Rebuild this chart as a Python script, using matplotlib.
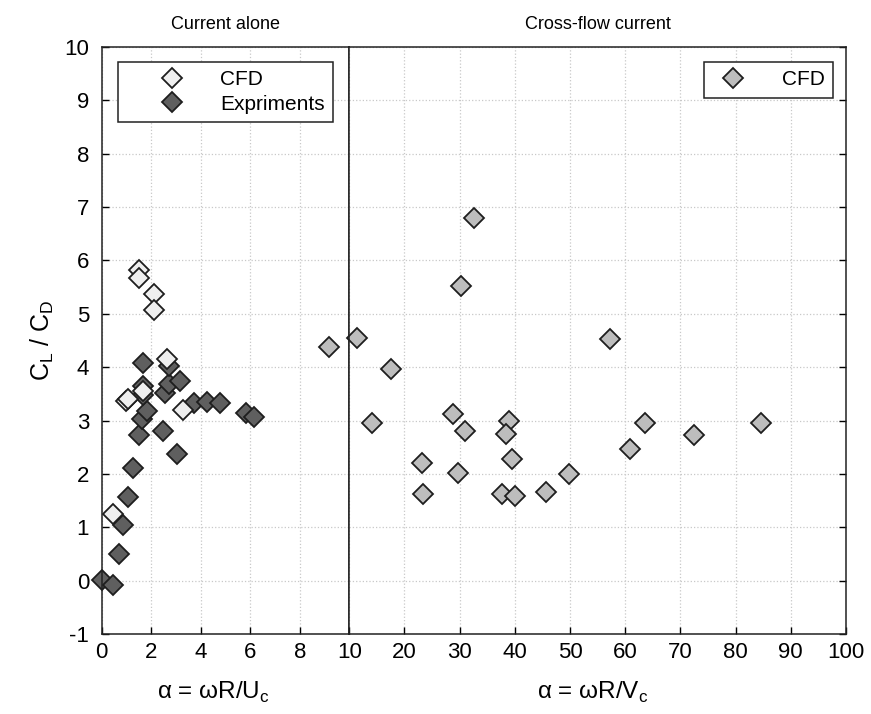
import matplotlib
matplotlib.use("Agg")
import matplotlib.pyplot as plt
from matplotlib.lines import Line2D

# ── data ──
# current alone: CFD
cfd_alone_x = [1.52, 1.52, 2.12, 2.12, 2.63, 0.99, 1.05, 1.69, 3.30, 0.48]
cfd_alone_y = [5.82, 5.68, 5.37, 5.08, 4.15, 3.37, 3.40, 3.55, 3.19, 1.25]

# current alone: experiments
exp_x = [0.0, 0.48, 0.71, 0.85, 1.05, 1.26, 1.50, 1.62, 1.85, 1.66, 1.69, 1.69,
         2.49, 3.03, 2.55, 2.73, 2.73, 3.17, 3.74, 4.24, 4.78, 5.83, 6.15]
exp_y = [0.02, -0.09, 0.50, 1.05, 1.56, 2.12, 2.72, 3.03, 3.18, 3.48, 3.64, 4.07,
         2.81, 2.37, 3.51, 3.68, 4.02, 3.75, 3.32, 3.34, 3.32, 3.15, 3.07]

# cross-flow current: CFD
cfd_cross_x = [9.19, 11.36, 17.5, 14.2, 32.6, 30.2, 28.7, 31.0, 23.2, 29.7, 23.4,
               39.0, 38.4, 39.4, 37.6, 40.0, 45.6, 49.8, 57.2, 60.8, 63.6, 72.5, 84.6]
cfd_cross_y = [4.38, 4.54, 3.97, 2.95, 6.80, 5.52, 3.12, 2.81, 2.20, 2.01, 1.63,
               3.00, 2.75, 2.28, 1.63, 1.59, 1.66, 2.00, 4.53, 2.46, 2.96, 2.72, 2.96]

left_ticks = [0, 2, 4, 6, 8]
right_ticks = [10, 20, 30, 40, 50, 60, 70, 80, 90, 100]
y_ticks = list(range(-1, 11))

plt.rcParams["font.family"] = ["Liberation Sans", "DejaVu Sans"]
plt.rcParams["mathtext.fontset"] = "custom"
plt.rcParams["mathtext.rm"] = "Liberation Sans"
plt.rcParams["axes.unicode_minus"] = False

W, H = 871, 714
fig = plt.figure(figsize=(W / 100, H / 100), dpi=100)
x0, xm, x1 = 101.5, 349.3, 846.0
ytop, ybot = 47.0, 634.0
axL = fig.add_axes([x0 / W, 1 - ybot / H, (xm - x0) / W, (ybot - ytop) / H])
axR = fig.add_axes([xm / W, 1 - ybot / H, (x1 - xm) / W, (ybot - ytop) / H], sharey=axL)

WHITE, DARK, GRAY, EDGE = "#efefef", "#5f5f5f", "#bdbdbd", "#1e1e1e"
mk = dict(marker="D", ms=10, mec=EDGE, mew=1.3, ls="none", clip_on=False)

def split(xs, ys, lo, hi):
    pts = [(x, y) for x, y in zip(xs, ys) if lo <= x <= hi]
    return [p[0] for p in pts], [p[1] for p in pts]

for ax, lo, hi in [(axL, 0, 10), (axR, 10, 100)]:
    ax.set_xlim(lo, hi)
    ax.set_ylim(-1, 10)
    ax.grid(True, color="#c8c8c8", ls=":", lw=0.9)
    ax.set_axisbelow(True)
    ax.tick_params(direction="in", length=5, width=1, labelsize=16, pad=6)
    for s in ax.spines.values():
        s.set_linewidth(1.1)
        s.set_color("#222222")
    ax.plot(*split(cfd_cross_x, cfd_cross_y, lo, hi), mfc=GRAY, **mk)

axL.plot(*split(exp_x, exp_y, 0, 10), mfc=DARK, **mk)
axL.plot(*split(cfd_alone_x, cfd_alone_y, 0, 10), mfc=WHITE, **mk)

axL.set_xticks(left_ticks + [10])
axL.set_xticklabels([str(t) for t in left_ticks] + [""])
axL.set_yticks(y_ticks)
axL.tick_params(axis="y", pad=9)
axR.set_xticks(right_ticks)
axR.tick_params(axis="y", left=False, right=True, labelleft=False)

axL.set_title("Current alone", fontsize=13, pad=13)
axR.set_title("Cross-flow current", fontsize=13, pad=13)
axL.set_xlabel("α = ωR/U$_{\\rm c}$", fontsize=17.5, labelpad=10)
axR.set_xlabel("α = ωR/V$_{\\rm c}$", fontsize=17.5, labelpad=10)
axL.xaxis.set_label_coords(0.45, -0.078)
axR.xaxis.set_label_coords(0.49, -0.078)
axL.set_ylabel("C$_{\\rm L}$ / C$_{\\rm D}$", fontsize=18, labelpad=6)

def handle(color):
    return Line2D([], [], marker="D", ms=10, mfc=color, mec=EDGE, mew=1.3, ls="none")

leg_kw = dict(fontsize=15, fancybox=False, edgecolor="#222222", framealpha=1,
              borderaxespad=0, bbox_transform=fig.transFigure, borderpad=0.4)
legL = axL.legend([handle(WHITE), handle(DARK)], ["CFD", "Expriments"],
                  loc="upper left", bbox_to_anchor=(118 / W, 1 - 62 / H),
                  handlelength=4.4, handletextpad=0.1, labelspacing=0.25, **leg_kw)
legL.get_frame().set_linewidth(1.1)
legR = axR.legend([handle(GRAY)], ["CFD"],
                  loc="upper right", bbox_to_anchor=(833 / W, 1 - 62 / H),
                  handlelength=2.0, handletextpad=1.35, **leg_kw)
legR.get_frame().set_linewidth(1.1)

fig.savefig("out.png", dpi=100)
